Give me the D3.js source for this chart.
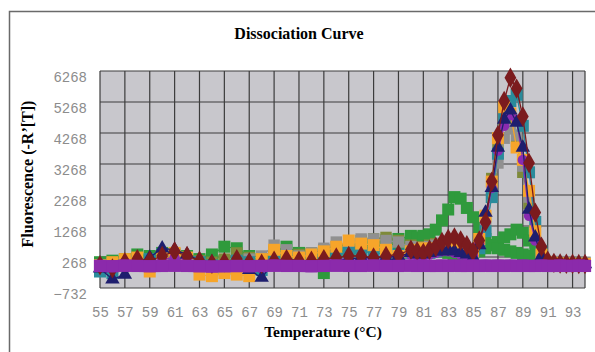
<!DOCTYPE html>
<html><head><meta charset="utf-8">
<script src="https://cdn.jsdelivr.net/npm/d3@7/dist/d3.min.js"></script>
<style>html,body{margin:0;padding:0;background:#fff;}svg{display:block;}</style>
</head><body><svg id="c" width="595" height="352"></svg>
<script>
// ---- data ----
const temps = [55,56,57,58,59,60,61,62,63,64,65,66,67,68,69,70,71,72,73,74,75,76,77,78,79,80,
  80.5,81,81.5,82,82.5,83,83.5,84,84.5,
  85,85.5,86,86.5,87,87.5,88,88.5,89,89.5,90,90.5,91,
  91.5,92,92.5,93,93.5,94];
const xTicks = [55,57,59,61,63,65,67,69,71,73,75,77,79,81,83,85,87,89,91,93];
const yTicks = [-732,268,1268,2268,3268,4268,5268,6268];

const greenB = [50,100,150,200,150,200,250,200,150,100,150,200,150,100,200,300,300,350,400,450,500,550,600,650,700,700,
  650,600,550,500,450,400,350,300,300,
  350,450,550,650,750,900,1000,1150,1050,800,500,250,100,
  50,40,40,30,30,30];
const greenA = [100,150,200,350,300,400,350,300,200,350,600,550,300,200,450,600,400,300,-250,400,500,600,700,800,850,950,
  900,950,1000,1150,1450,1800,2200,2150,1850,
  1550,1200,850,650,550,500,450,400,350,300,200,100,50,
  40,40,30,30,30,30];
const olive = [0,100,150,250,200,300,350,250,150,100,200,400,250,100,300,400,350,400,500,600,700,800,850,900,800,650,
  600,600,650,700,700,650,600,550,500,
  400,800,1500,2800,3900,4700,4600,4000,3000,2000,900,250,80,
  60,50,50,40,40,40];
const gray = [0,50,150,200,100,250,300,200,100,-200,-150,50,200,300,650,500,300,400,550,750,650,850,850,800,750,600,
  550,550,600,650,700,650,600,550,500,
  400,700,1200,2200,3300,4100,4400,4200,3200,2200,1000,300,100,
  120,120,110,110,100,100];
const teal = [-200,-250,0,150,200,350,300,200,100,0,-100,150,100,-150,200,250,200,200,250,350,400,450,400,350,350,400,
  400,450,400,450,500,550,500,450,400,
  300,550,1100,2200,3600,4800,5300,5500,4500,3000,1400,450,100,
  80,70,60,60,50,50];
const orange = [0,100,200,250,-200,300,400,250,-300,-350,-250,-300,-350,200,500,300,250,350,450,600,800,700,650,500,300,450,
  500,550,500,550,650,700,600,550,500,
  450,850,1600,2700,4100,5100,4900,3800,3400,2400,1100,350,100,
  80,60,60,50,50,50];
const purpleDots = [50,-50,100,150,100,200,250,200,100,0,50,100,50,-100,100,150,100,100,150,200,200,200,250,250,300,350,
  300,300,350,400,450,450,400,350,300,
  300,700,1400,2500,3700,4500,4850,4700,3400,1600,800,250,80,
  60,50,50,40,40,40];
const navy = [-100,-450,-300,100,250,550,500,350,150,100,50,100,-150,-400,100,200,150,100,100,150,200,250,250,250,300,400,
  350,350,400,450,450,500,450,400,350,
  250,650,1700,2500,3800,4700,5000,4600,3800,1800,900,300,80,
  60,50,50,40,40,40];
const maroon = [0,-100,100,200,150,300,450,300,150,50,100,200,100,50,150,200,150,150,200,250,300,300,250,300,350,500,
  450,400,500,600,750,850,900,800,650,
  450,800,1400,2700,4200,5300,6050,5700,4800,3300,1700,600,150,
  80,60,50,50,40,40];
const purpleBase = [-20,-30,-10,-20,-30,-20,-10,-20,-30,-40,-30,-20,-30,-20,-10,-20,-20,-30,-20,-10,-20,-20,-10,-20,-20,-10,
  -20,-10,-20,-20,-10,-20,-10,-20,-20,
  -10,-20,-10,-20,-10,-20,-10,-20,-10,-20,-20,-10,-20,
  -20,-10,-20,-20,-10,-20];

const series = [
  {values: greenB, color: "#2f9a3c", shape: "square", size: 144},
  {values: greenA, color: "#2f9a3c", shape: "square", size: 144},
  {values: olive, color: "#7e8a3a", shape: "square", size: 130},
  {values: gray, color: "#909090", shape: "square", size: 130},
  {values: teal, color: "#2a8b9b", shape: "square", size: 144},
  {values: orange, color: "#f7a52a", shape: "square", size: 144},
  {values: purpleDots, color: "#8a2bb0", shape: "circle", size: 85},
  {values: navy, color: "#1e1e6e", shape: "triangle", size: 90},
  {values: maroon, color: "#7b1b1e", shape: "diamond", size: 120},
  {values: purpleBase, color: "#8b2aab", shape: "square", size: 150, band: true}
];

// ---- layout ----
const svg = d3.select("#c");
const L = 100, R = 585, T = 71, B = 288;
const x = d3.scaleLinear().domain([55, 94]).range([L, R]);
const y = d3.scaleLinear().domain([-732, 6268]).range([B, T]);

svg.append("rect").attr("x",0).attr("y",0).attr("width",595).attr("height",352).attr("fill","#fff");
svg.append("rect").attr("x",9.5).attr("y",11.5).attr("width",700).attr("height",400)
  .attr("fill","none").attr("stroke","#6a6a6a").attr("stroke-width",1.5);

svg.append("rect").attr("x",L).attr("y",T).attr("width",R-L).attr("height",B-T).attr("fill","#c8c7cc");

const grid = svg.append("g").attr("stroke","#3c3c3c").attr("stroke-width",1.2);
grid.selectAll(".vx").data(xTicks).enter().append("line")
  .attr("x1",d=>x(d)).attr("x2",d=>x(d)).attr("y1",T).attr("y2",B);
grid.selectAll(".hy").data(yTicks).enter().append("line")
  .attr("x1",L).attr("x2",R).attr("y1",d=>y(d)).attr("y2",d=>y(d));
grid.append("line").attr("x1",R).attr("x2",R).attr("y1",T).attr("y2",B);

// axes (labels only)
const xAxis = d3.axisBottom(x).tickValues(xTicks).tickSize(0).tickPadding(0).tickFormat(d3.format("d"));
const gx = svg.append("g").attr("transform",`translate(0,${B})`).call(xAxis);
gx.select(".domain").remove();
gx.selectAll("text").attr("dy",null).attr("y",29)
  .attr("font-family","'Liberation Mono', monospace").attr("font-size",14).attr("fill","#8c8c8c");

const yAxis = d3.axisLeft(y).tickValues(yTicks).tickSize(0).tickPadding(0).tickFormat(d=>d<0?"\u2212"+Math.abs(d):String(d));
const gy = svg.append("g").attr("transform",`translate(${L-13},0)`).call(yAxis);
gy.select(".domain").remove();
gy.selectAll("text").attr("dy",null).attr("y",10.5)
  .attr("font-family","'Liberation Mono', monospace").attr("font-size",14).attr("fill","#8c8c8c");

// series
const shapes = {square: d3.symbolSquare, circle: d3.symbolCircle, triangle: d3.symbolTriangle, diamond: d3.symbolDiamond};
const line = d3.line().x(d=>x(d[0])).y(d=>y(d[1]));
series.forEach(s => {
  const pts = temps.map((t,i)=>[t, s.values[i]]);
  const g = svg.append("g");
  g.append("path").datum(pts).attr("d",line).attr("fill","none")
    .attr("stroke",s.color).attr("stroke-width", s.band ? 12 : 1.3);
  g.selectAll("path.m").data(pts).enter().append("path").attr("class","m")
    .attr("transform",d=>`translate(${x(d[0])},${y(d[1])})`)
    .attr("d", d3.symbol().type(shapes[s.shape]).size(s.size)())
    .attr("fill", s.color);
});

// titles
svg.append("text").attr("x",299).attr("y",39).attr("text-anchor","middle")
  .attr("font-family","'Liberation Serif', serif").attr("font-weight","bold").attr("font-size",16)
  .text("Dissociation Curve");
svg.append("text").attr("x",323).attr("y",337).attr("text-anchor","middle")
  .attr("font-family","'Liberation Serif', serif").attr("font-weight","bold").attr("font-size",15.5)
  .text("Temperature (°C)");
svg.append("text").attr("transform","translate(33,174) rotate(-90)").attr("text-anchor","middle")
  .attr("font-family","'Liberation Serif', serif").attr("font-weight","bold").attr("font-size",16)
  .text("Fluorescence (-R\u2019[T])");
</script></body></html>
